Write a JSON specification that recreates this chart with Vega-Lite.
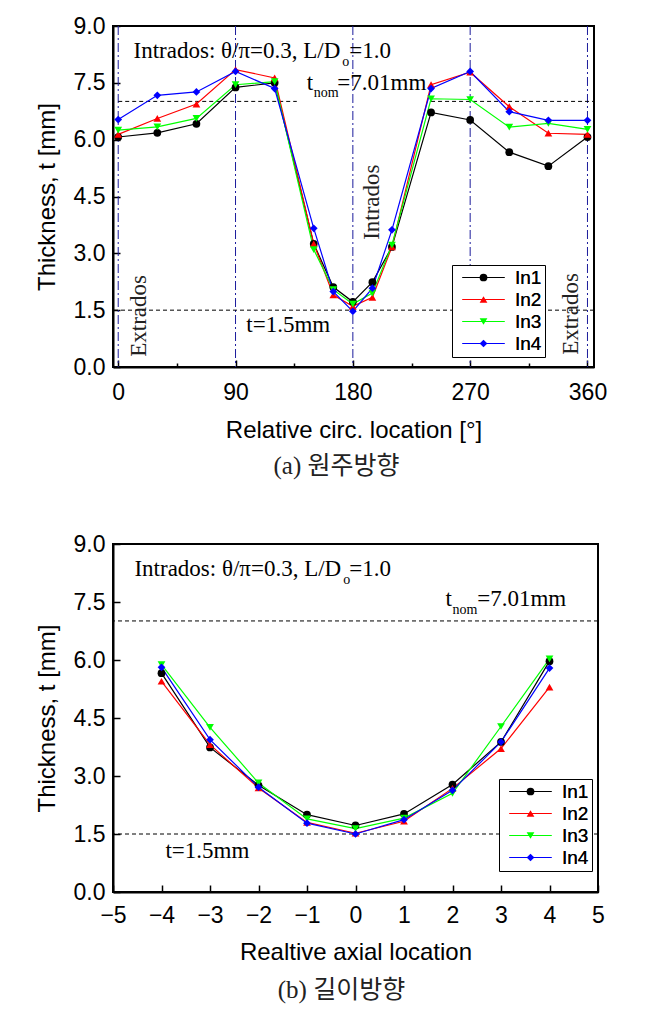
{
  "$schema": "https://vega.github.io/schema/vega-lite/v6.json",
  "background": "white",
  "padding": {"left": 34, "top": 14, "right": 5, "bottom": 5},
  "spacing": 52,
  "datasets": {
    "circ": [
      {"loc": 0, "t": 6.07, "s": "In1"}, {"loc": 30, "t": 6.18, "s": "In1"}, {"loc": 60, "t": 6.42, "s": "In1"}, {"loc": 90, "t": 7.38, "s": "In1"}, {"loc": 120, "t": 7.5, "s": "In1"}, {"loc": 150, "t": 3.25, "s": "In1"}, {"loc": 165, "t": 2.11, "s": "In1"}, {"loc": 180, "t": 1.72, "s": "In1"}, {"loc": 195, "t": 2.24, "s": "In1"}, {"loc": 210, "t": 3.17, "s": "In1"}, {"loc": 240, "t": 6.72, "s": "In1"}, {"loc": 270, "t": 6.52, "s": "In1"}, {"loc": 300, "t": 5.67, "s": "In1"}, {"loc": 330, "t": 5.3, "s": "In1"}, {"loc": 360, "t": 6.07, "s": "In1"},
      {"loc": 0, "t": 6.14, "s": "In2"}, {"loc": 30, "t": 6.56, "s": "In2"}, {"loc": 60, "t": 6.94, "s": "In2"}, {"loc": 90, "t": 7.85, "s": "In2"}, {"loc": 120, "t": 7.63, "s": "In2"}, {"loc": 150, "t": 3.25, "s": "In2"}, {"loc": 165, "t": 1.9, "s": "In2"}, {"loc": 180, "t": 1.6, "s": "In2"}, {"loc": 195, "t": 1.84, "s": "In2"}, {"loc": 210, "t": 3.17, "s": "In2"}, {"loc": 240, "t": 7.45, "s": "In2"}, {"loc": 270, "t": 7.78, "s": "In2"}, {"loc": 300, "t": 6.87, "s": "In2"}, {"loc": 330, "t": 6.17, "s": "In2"}, {"loc": 360, "t": 6.14, "s": "In2"},
      {"loc": 0, "t": 6.25, "s": "In3"}, {"loc": 30, "t": 6.34, "s": "In3"}, {"loc": 60, "t": 6.56, "s": "In3"}, {"loc": 90, "t": 7.45, "s": "In3"}, {"loc": 120, "t": 7.53, "s": "In3"}, {"loc": 150, "t": 3.1, "s": "In3"}, {"loc": 165, "t": 2.04, "s": "In3"}, {"loc": 180, "t": 1.66, "s": "In3"}, {"loc": 195, "t": 1.95, "s": "In3"}, {"loc": 210, "t": 3.22, "s": "In3"}, {"loc": 240, "t": 7.08, "s": "In3"}, {"loc": 270, "t": 7.06, "s": "In3"}, {"loc": 300, "t": 6.33, "s": "In3"}, {"loc": 330, "t": 6.43, "s": "In3"}, {"loc": 360, "t": 6.27, "s": "In3"},
      {"loc": 0, "t": 6.53, "s": "In4"}, {"loc": 30, "t": 7.17, "s": "In4"}, {"loc": 60, "t": 7.26, "s": "In4"}, {"loc": 90, "t": 7.8, "s": "In4"}, {"loc": 120, "t": 7.35, "s": "In4"}, {"loc": 150, "t": 3.66, "s": "In4"}, {"loc": 165, "t": 1.99, "s": "In4"}, {"loc": 180, "t": 1.47, "s": "In4"}, {"loc": 195, "t": 2.08, "s": "In4"}, {"loc": 210, "t": 3.62, "s": "In4"}, {"loc": 240, "t": 7.35, "s": "In4"}, {"loc": 270, "t": 7.8, "s": "In4"}, {"loc": 300, "t": 6.74, "s": "In4"}, {"loc": 330, "t": 6.51, "s": "In4"}, {"loc": 360, "t": 6.51, "s": "In4"}
    ],
    "axial": [
      {"loc": -4, "t": 5.66, "s": "In1"}, {"loc": -3, "t": 3.74, "s": "In1"}, {"loc": -2, "t": 2.76, "s": "In1"}, {"loc": -1, "t": 2.0, "s": "In1"}, {"loc": 0, "t": 1.72, "s": "In1"}, {"loc": 1, "t": 2.02, "s": "In1"}, {"loc": 2, "t": 2.78, "s": "In1"}, {"loc": 3, "t": 3.88, "s": "In1"}, {"loc": 4, "t": 5.97, "s": "In1"},
      {"loc": -4, "t": 5.45, "s": "In2"}, {"loc": -3, "t": 3.81, "s": "In2"}, {"loc": -2, "t": 2.69, "s": "In2"}, {"loc": -1, "t": 1.8, "s": "In2"}, {"loc": 0, "t": 1.52, "s": "In2"}, {"loc": 1, "t": 1.83, "s": "In2"}, {"loc": 2, "t": 2.68, "s": "In2"}, {"loc": 3, "t": 3.71, "s": "In2"}, {"loc": 4, "t": 5.3, "s": "In2"},
      {"loc": -4, "t": 5.88, "s": "In3"}, {"loc": -3, "t": 4.26, "s": "In3"}, {"loc": -2, "t": 2.82, "s": "In3"}, {"loc": -1, "t": 1.89, "s": "In3"}, {"loc": 0, "t": 1.64, "s": "In3"}, {"loc": 1, "t": 1.91, "s": "In3"}, {"loc": 2, "t": 2.55, "s": "In3"}, {"loc": 3, "t": 4.28, "s": "In3"}, {"loc": 4, "t": 6.03, "s": "In3"},
      {"loc": -4, "t": 5.81, "s": "In4"}, {"loc": -3, "t": 3.94, "s": "In4"}, {"loc": -2, "t": 2.71, "s": "In4"}, {"loc": -1, "t": 1.78, "s": "In4"}, {"loc": 0, "t": 1.5, "s": "In4"}, {"loc": 1, "t": 1.87, "s": "In4"}, {"loc": 2, "t": 2.63, "s": "In4"}, {"loc": 3, "t": 3.88, "s": "In4"}, {"loc": 4, "t": 5.79, "s": "In4"}
    ]
  },
  "resolve": {"legend": {"stroke": "independent", "fill": "independent", "shape": "independent"}},
  "vconcat": [
    {
      "width": 481,
      "height": 341,
      "title": {"text": "(a) 원주방향", "dx": -17, "offset": 12},
      "layer": [
        {
          "data": {"values": [{"v": 0}, {"v": 90}, {"v": 180}, {"v": 270}, {"v": 360}]},
          "mark": {"type": "rule", "color": "#1c1c9c", "strokeWidth": 1, "strokeDash": [9, 3, 2, 3]},
          "encoding": {
            "x": {"field": "v", "type": "quantitative", "scale": {"domain": [-4, 365], "nice": false, "zero": false},
                  "axis": {"values": [0, 45, 90, 135, 180, 225, 270, 315, 360], "labelExpr": "datum.value % 90 === 0 ? datum.label : ''", "format": "d", "title": "Relative circ. location [°]",
                           "tickSize": {"condition": {"test": "datum.value % 90 === 0", "value": -7}, "value": -4}, "labelPadding": 21, "titlePadding": 11}}
          }
        },
        {
          "data": {"values": [{"a": 0, "b": 137, "y": 7.01}, {"a": 240, "b": 365, "y": 7.01}]},
          "mark": {"type": "rule", "color": "black", "strokeWidth": 1, "strokeDash": [4, 3]},
          "encoding": {
            "x": {"field": "a", "type": "quantitative", "scale": {"domain": [-4, 365], "nice": false, "zero": false}},
            "x2": {"field": "b"},
            "y": {"field": "y", "type": "quantitative", "scale": {"domain": [0, 9], "nice": false, "zero": false}}
          }
        },
        {
          "data": {"values": [{"y": 1.5}]},
          "mark": {"type": "rule", "color": "black", "strokeWidth": 1, "strokeDash": [4, 3]},
          "encoding": {
            "y": {"field": "y", "type": "quantitative", "scale": {"domain": [0, 9], "nice": false, "zero": false},
                  "axis": {"values": [0, 0.75, 1.5, 2.25, 3, 3.75, 4.5, 5.25, 6, 6.75, 7.5, 8.25, 9], "format": ".1f", "labelExpr": "datum.value % 1.5 === 0 ? datum.label : ''", "title": "Thickness, t [mm]",
                           "tickSize": {"condition": {"test": "datum.value % 1.5 === 0", "value": -7}, "value": -4}, "labelPadding": 15, "titlePadding": 14}}
          }
        },
        {
          "data": {"name": "circ"},
          "mark": {"type": "line", "strokeWidth": 1.2},
          "encoding": {
            "x": {"field": "loc", "type": "quantitative", "scale": {"domain": [-4, 365], "nice": false, "zero": false}},
            "y": {"field": "t", "type": "quantitative", "scale": {"domain": [0, 9], "nice": false, "zero": false}},
            "stroke": {"field": "s", "type": "nominal", "scale": {"range": ["#000000", "#ff0000", "#00ff00", "#0000ff"]},
                       "legend": {"title": null, "orient": "none", "legendX": 339, "legendY": 239, "symbolType": "M-5.5,0L5.5,0", "symbolStrokeWidth": 1, "fillColor": "white", "strokeColor": "black", "zindex": 1}}
          }
        },
        {
          "data": {"name": "circ"},
          "mark": {"type": "point", "filled": true, "opacity": 1, "size": 60, "strokeWidth": 0},
          "encoding": {
            "x": {"field": "loc", "type": "quantitative", "scale": {"domain": [-4, 365], "nice": false, "zero": false}},
            "y": {"field": "t", "type": "quantitative", "scale": {"domain": [0, 9], "nice": false, "zero": false}},
            "fill": {"field": "s", "type": "nominal", "scale": {"domain": ["In1", "In2", "In3", "In4"], "range": ["#000000", "#ff0000", "#00ff00", "#0000ff"]},
                     "legend": {"title": null, "orient": "none", "legendX": 339, "legendY": 239, "zindex": 2}},
            "shape": {"field": "s", "type": "nominal", "scale": {"domain": ["In1", "In2", "In3", "In4"], "range": ["circle", "triangle-up", "triangle-down", "diamond"]},
                      "legend": {"title": null, "orient": "none", "legendX": 339, "legendY": 239, "zindex": 2}}
          }
        },
        {
          "data": {"values": [{"x": 170.4, "y": 8.16, "text": "Intrados: θ/π=0.3, L/D"}, {"x": 149.6, "y": 7.32, "text": "t"}]},
          "mark": {"type": "text", "align": "right", "baseline": "alphabetic", "font": "Liberation Serif", "fontSize": 23, "color": "black"},
          "encoding": {
            "x": {"field": "x", "type": "quantitative", "scale": {"domain": [-4, 365], "nice": false, "zero": false}},
            "y": {"field": "y", "type": "quantitative", "scale": {"domain": [0, 9], "nice": false, "zero": false}},
            "text": {"field": "text"}
          }
        },
        {
          "data": {"values": [{"x": 171.9, "y": 7.94, "text": "o"}, {"x": 150.0, "y": 7.13, "text": "nom"}]},
          "mark": {"type": "text", "align": "left", "baseline": "alphabetic", "font": "Liberation Serif", "fontSize": 14, "color": "black"},
          "encoding": {
            "x": {"field": "x", "type": "quantitative", "scale": {"domain": [-4, 365], "nice": false, "zero": false}},
            "y": {"field": "y", "type": "quantitative", "scale": {"domain": [0, 9], "nice": false, "zero": false}},
            "text": {"field": "text"}
          }
        },
        {
          "data": {"values": [{"x": 177.3, "y": 8.16, "text": "=1.0"}, {"x": 168.1, "y": 7.32, "text": "=7.01mm"}, {"x": 98.3, "y": 0.92, "text": "t=1.5mm"}]},
          "mark": {"type": "text", "align": "left", "baseline": "alphabetic", "font": "Liberation Serif", "fontSize": 23, "color": "black"},
          "encoding": {
            "x": {"field": "x", "type": "quantitative", "scale": {"domain": [-4, 365], "nice": false, "zero": false}},
            "y": {"field": "y", "type": "quantitative", "scale": {"domain": [0, 9], "nice": false, "zero": false}},
            "text": {"field": "text"}
          }
        },
        {
          "data": {"values": [{"x": 16.2, "y": 1.35, "text": "Extrados"}, {"x": 347.3, "y": 1.4, "text": "Extrados"}, {"x": 195, "y": 4.35, "text": "Intrados"}]},
          "mark": {"type": "text", "align": "center", "baseline": "middle", "angle": 270, "font": "Liberation Serif", "fontSize": 23, "color": "#222222"},
          "encoding": {
            "x": {"field": "x", "type": "quantitative", "scale": {"domain": [-4, 365], "nice": false, "zero": false}},
            "y": {"field": "y", "type": "quantitative", "scale": {"domain": [0, 9], "nice": false, "zero": false}},
            "text": {"field": "text"}
          }
        }
      ]
    },
    {
      "width": 485,
      "height": 348,
      "title": {"text": "(b) 길이방향", "dx": -14, "offset": 14},
      "layer": [
        {
          "data": {"values": [{"y": 1.5}, {"y": 7.01}]},
          "mark": {"type": "rule", "color": "black", "strokeWidth": 1, "strokeDash": [4, 3]},
          "encoding": {
            "y": {"field": "y", "type": "quantitative", "scale": {"domain": [0, 9], "nice": false, "zero": false},
                  "axis": {"values": [0, 0.75, 1.5, 2.25, 3, 3.75, 4.5, 5.25, 6, 6.75, 7.5, 8.25, 9], "format": ".1f", "labelExpr": "datum.value % 1.5 === 0 ? datum.label : ''", "title": "Thickness, t [mm]",
                           "tickSize": {"condition": {"test": "datum.value % 1.5 === 0", "value": -7}, "value": -4}, "labelPadding": 15, "titlePadding": 14}}
          }
        },
        {
          "data": {"name": "axial"},
          "mark": {"type": "line", "strokeWidth": 1.2},
          "encoding": {
            "x": {"field": "loc", "type": "quantitative", "scale": {"domain": [-5, 5], "nice": false, "zero": false},
                  "axis": {"values": [-5, -4.5, -4, -3.5, -3, -2.5, -2, -1.5, -1, -0.5, 0, 0.5, 1, 1.5, 2, 2.5, 3, 3.5, 4, 4.5, 5], "labelExpr": "datum.value % 1 === 0 ? datum.label : ''", "title": "Realtive axial location",
                           "tickSize": {"condition": {"test": "datum.value % 1 === 0", "value": -7}, "value": -4}, "labelPadding": 19, "titlePadding": 13}},
            "y": {"field": "t", "type": "quantitative", "scale": {"domain": [0, 9], "nice": false, "zero": false}},
            "stroke": {"field": "s", "type": "nominal", "scale": {"range": ["#000000", "#ff0000", "#00ff00", "#0000ff"]},
                       "legend": {"title": null, "orient": "none", "legendX": 386, "legendY": 235, "symbolType": "M-5.5,0L5.5,0", "symbolStrokeWidth": 1, "fillColor": "white", "strokeColor": "black", "zindex": 1}}
          }
        },
        {
          "data": {"name": "axial"},
          "mark": {"type": "point", "filled": true, "opacity": 1, "size": 60, "strokeWidth": 0},
          "encoding": {
            "x": {"field": "loc", "type": "quantitative", "scale": {"domain": [-5, 5], "nice": false, "zero": false}},
            "y": {"field": "t", "type": "quantitative", "scale": {"domain": [0, 9], "nice": false, "zero": false}},
            "fill": {"field": "s", "type": "nominal", "scale": {"domain": ["In1", "In2", "In3", "In4"], "range": ["#000000", "#ff0000", "#00ff00", "#0000ff"]},
                     "legend": {"title": null, "orient": "none", "legendX": 386, "legendY": 235, "zindex": 2}},
            "shape": {"field": "s", "type": "nominal", "scale": {"domain": ["In1", "In2", "In3", "In4"], "range": ["circle", "triangle-up", "triangle-down", "diamond"]},
                      "legend": {"title": null, "orient": "none", "legendX": 386, "legendY": 235, "zindex": 2}}
          }
        },
        {
          "data": {"values": [{"x": -0.294, "y": 8.16, "text": "Intrados: θ/π=0.3, L/D"}, {"x": 1.99, "y": 7.39, "text": "t"}]},
          "mark": {"type": "text", "align": "right", "baseline": "alphabetic", "font": "Liberation Serif", "fontSize": 23, "color": "black"},
          "encoding": {
            "x": {"field": "x", "type": "quantitative", "scale": {"domain": [-5, 5], "nice": false, "zero": false}},
            "y": {"field": "y", "type": "quantitative", "scale": {"domain": [0, 9], "nice": false, "zero": false}},
            "text": {"field": "text"}
          }
        },
        {
          "data": {"values": [{"x": -0.253, "y": 7.97, "text": "o"}, {"x": 2.0, "y": 7.19, "text": "nom"}]},
          "mark": {"type": "text", "align": "left", "baseline": "alphabetic", "font": "Liberation Serif", "fontSize": 14, "color": "black"},
          "encoding": {
            "x": {"field": "x", "type": "quantitative", "scale": {"domain": [-5, 5], "nice": false, "zero": false}},
            "y": {"field": "y", "type": "quantitative", "scale": {"domain": [0, 9], "nice": false, "zero": false}},
            "text": {"field": "text"}
          }
        },
        {
          "data": {"values": [{"x": -0.13, "y": 8.16, "text": "=1.0"}, {"x": 2.51, "y": 7.39, "text": "=7.01mm"}, {"x": -3.92, "y": 0.88, "text": "t=1.5mm"}]},
          "mark": {"type": "text", "align": "left", "baseline": "alphabetic", "font": "Liberation Serif", "fontSize": 23, "color": "black"},
          "encoding": {
            "x": {"field": "x", "type": "quantitative", "scale": {"domain": [-5, 5], "nice": false, "zero": false}},
            "y": {"field": "y", "type": "quantitative", "scale": {"domain": [0, 9], "nice": false, "zero": false}},
            "text": {"field": "text"}
          }
        }
      ]
    }
  ],
  "config": {
    "view": {"stroke": "black", "strokeWidth": 2},
    "axis": {"domainColor": "black", "domainWidth": 2, "tickColor": "black", "tickWidth": 1.5, "grid": false,
             "labelFont": "Liberation Sans", "labelFontSize": 23, "labelColor": "black", "labelFlush": false, "labelOverlap": false,
             "titleFont": "Liberation Sans", "titleFontSize": 24, "titleFontWeight": "normal", "titleColor": "black"},
    "legend": {"labelFont": "Liberation Sans", "labelFontSize": 19, "labelColor": "black",
               "padding": 3, "rowPadding": 2, "symbolSize": 60, "symbolOffset": 19, "labelOffset": 22},
    "title": {"orient": "bottom", "anchor": "middle", "frame": "group", "offset": 8, "font": "Liberation Serif, Noto Sans CJK KR", "fontSize": 25, "fontWeight": "normal", "color": "#222222"}
  }
}
